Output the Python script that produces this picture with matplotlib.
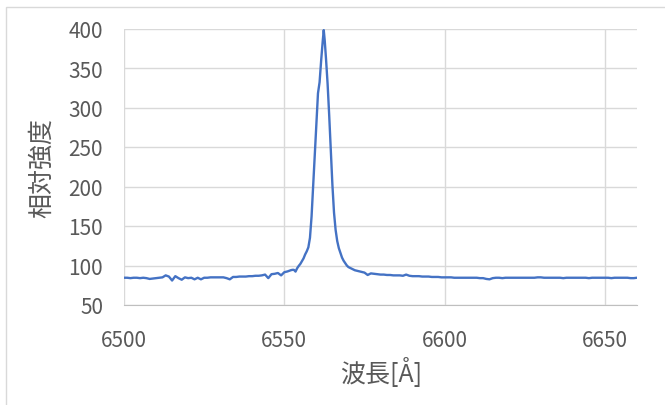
import matplotlib
matplotlib.use('Agg')
import matplotlib.pyplot as plt
from matplotlib.patches import Rectangle

plt.rcParams['font.family'] = ['Noto Sans CJK JP', 'DejaVu Sans']

# continuum blue side, 1 A steps
wl_blue = list(range(6500, 6553))
int_blue = [84.5, 84.5, 84, 84.5, 84.5, 84, 84.5, 84, 83, 83.5,
            84, 84.5, 85, 87.5, 86, 81, 86.5, 84, 82, 85,
            84, 84.5, 82.5, 84.5, 82.5, 84.5, 84.5, 85, 85, 85,
            85, 85, 84, 82.5, 85.5, 85.5, 86, 86, 86, 86.5,
            86.5, 87, 87, 87.5, 88.5, 84, 89, 89.5, 90.5, 87.5,
            91.5, 92.5, 94]

# H-alpha line core
wl_line = [6552.5, 6553.0, 6553.5, 6554.0, 6554.5, 6555.0, 6555.5, 6556.0,
           6556.5, 6557.0, 6557.5, 6558.0, 6558.5, 6559.0, 6559.5, 6560.0,
           6560.5, 6561.0, 6561.5, 6562.0, 6562.3, 6562.6, 6563.0, 6563.5,
           6564.0, 6564.5, 6565.0, 6565.5, 6566.0, 6566.5, 6567.0, 6567.5,
           6568.0, 6568.5, 6569.0, 6569.5, 6570.0, 6570.5, 6571.0, 6571.5,
           6572.0]
int_line = [94.5, 94.5, 92.3, 96.5, 99.5, 102, 105.5, 109,
            114, 118, 123, 135, 162, 200, 240, 280,
            318, 332, 360, 385, 398, 385, 362, 330,
            290, 245, 202, 167, 145, 131, 122, 116,
            110, 106, 103, 100, 98, 97, 96, 95,
            94]

# continuum red side, 1 A steps
wl_red = list(range(6573, 6661))
int_red = [93, 92, 91, 88, 90, 89.5, 89, 88.5, 88.5, 88,
           88, 87.5, 87.5, 87.5, 87, 88.5, 87, 86.5, 86.5, 86.5,
           86, 86, 86, 85.5, 85.5, 85.5, 85, 85, 85, 85,
           84.5, 84.5, 84.5, 84.5, 84.5, 84.5, 84.5, 84.5, 84, 84,
           83, 82.5, 84, 84.5, 84.5, 84, 84.5, 84.5, 84.5, 84.5,
           84.5, 84.5, 84.5, 84.5, 84.5, 84.5, 85, 85, 84.5, 84.5,
           84.5, 84.5, 84.5, 84.5, 84, 84.5, 84.5, 84.5, 84.5, 84.5,
           84.5, 84.5, 84, 84.5, 84.5, 84.5, 84.5, 84.5, 84.5, 84,
           84.5, 84.5, 84.5, 84.5, 84.5, 84, 84, 84.5]

wavelength = wl_blue + wl_line + wl_red
intensity = int_blue + int_line + int_red

x_ticks = [6500, 6550, 6600, 6650]
y_ticks = [50, 100, 150, 200, 250, 300, 350, 400]

fig = plt.figure(figsize=(6.65, 4.06), dpi=100)

# outer chart frame
fig.patches.append(Rectangle((6 / 665, -0.1), 1.1, 1.1 - 8 / 406, transform=fig.transFigure,
                             fill=False, edgecolor='#D9D9D9', linewidth=1))

ax = fig.add_axes([124 / 665, 1 - 306 / 406, (637 - 124) / 665, (306 - 29.5) / 406])
ax.plot(wavelength, intensity, color='#4472C4', linewidth=1.7, zorder=3)

ax.set_xlim(6500, 6660)
ax.set_ylim(50, 400)
ax.set_xticks(x_ticks)
ax.set_yticks(y_ticks)
ax.grid(True, color='#D9D9D9', linewidth=1)
ax.tick_params(length=0, labelsize=15, labelcolor='#595959')
ax.tick_params(axis='y', pad=15)
ax.tick_params(axis='x', pad=17)
for s in ['top', 'right', 'left']:
    ax.spines[s].set_visible(False)
ax.spines['bottom'].set_color('#BFBFBF')

ax.set_xlabel('波長[Å]', fontsize=18, color='#595959')
ax.set_ylabel('相対強度', fontsize=18, color='#595959')
ax.xaxis.label.set_va('center')
ax.yaxis.label.set_va('center')
ax.xaxis.set_label_coords((381 - 124) / 513, (306 - 373) / 276.5)
ax.yaxis.set_label_coords((42 - 124) / 513, (306 - 168) / 276.5)

plt.savefig('out.png', dpi=100)
plt.close()
